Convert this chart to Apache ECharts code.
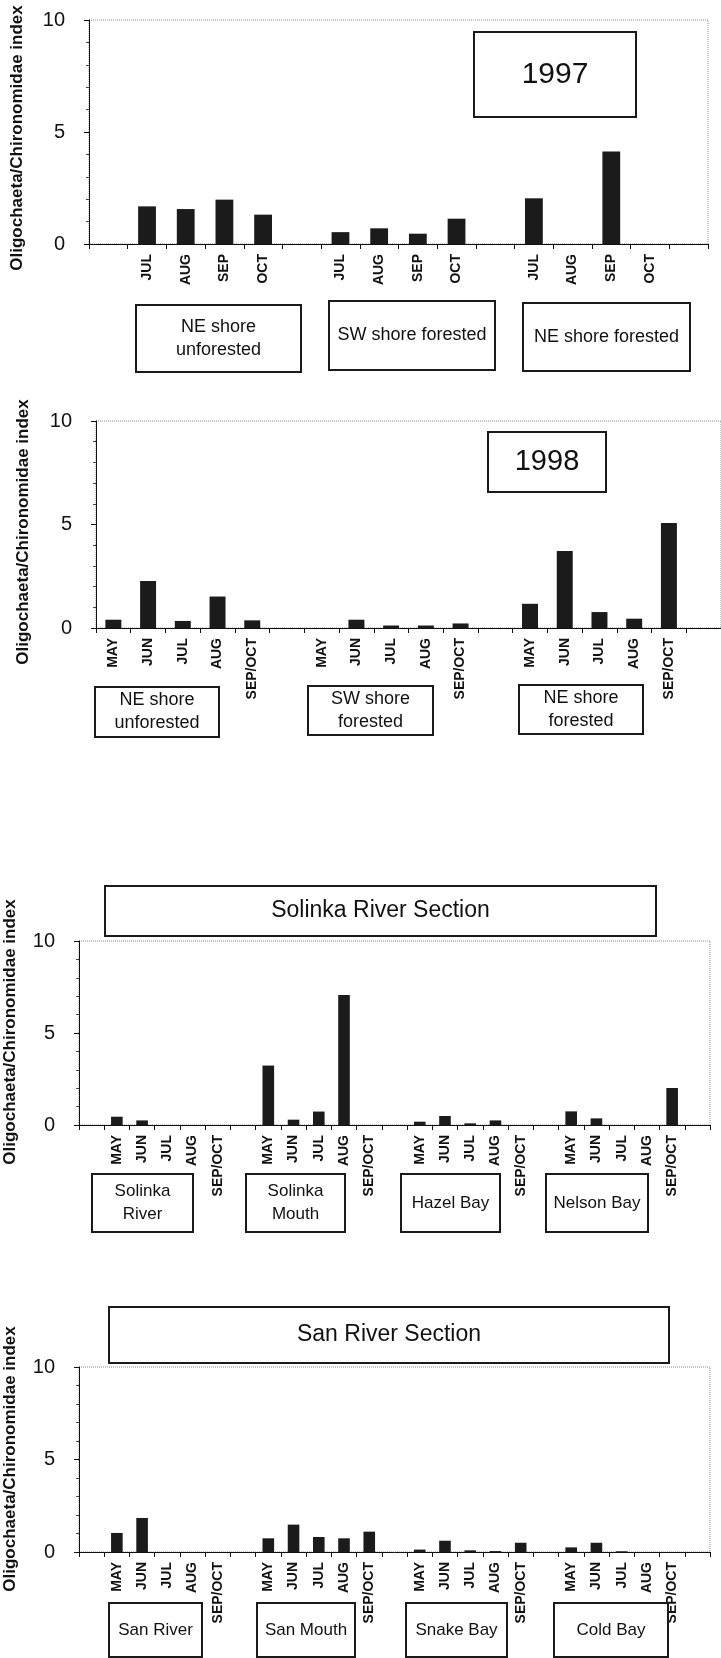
<!DOCTYPE html>
<html>
<head>
<meta charset="utf-8">
<title>Oligochaeta/Chironomidae index</title>
<script src="https://cdn.jsdelivr.net/npm/echarts/dist/echarts.min.js"></script>
<style>
  html, body { margin: 0; padding: 0; background: #fff; }
  #chart { width: 721px; height: 1658px; }
</style>
</head>
<body>
<div id="chart"></div>
<script>
// month labels
const months1997 = ["JUL", "AUG", "SEP", "OCT"];
const months = ["MAY", "JUN", "JUL", "AUG", "SEP/OCT"];
const yTicks = [0, 5, 10];

// 1997 lake sites
const neUnforested1997 = [1.68, 1.56, 1.98, 1.31];
const swForested1997 = [0.53, 0.70, 0.46, 1.13];
const neForested1997 = [2.04, 0, 4.13, 0];

// 1998 lake sites
const neUnforested1998 = [0.40, 2.27, 0.34, 1.52, 0.37];
const swForested1998 = [0, 0.40, 0.12, 0.12, 0.22];
const neForested1998 = [1.17, 3.72, 0.77, 0.45, 5.07];

// Solinka River section
const solinkaRiver = [0.45, 0.25, 0, 0, 0];
const solinkaMouth = [3.23, 0.29, 0.73, 7.06, 0];
const hazelBay = [0.18, 0.49, 0.09, 0.25, 0];
const nelsonBay = [0.74, 0.36, 0, 0, 2.01];

// San River section
const sanRiver = [1.03, 1.84, 0, 0, 0];
const sanMouth = [0.74, 1.48, 0.81, 0.74, 1.10];
const snakeBay = [0.13, 0.61, 0.09, 0.05, 0.50];
const coldBay = [0.25, 0.50, 0.04, 0, 0];

const yTitle = "Oligochaeta/Chironomidae index";
const FONT = "'Liberation Sans', Arial, sans-serif";

// put the site groups side by side with an empty slot after each
function layout(groups, names, leadingGap) {
  const cats = [], vals = [];
  if (leadingGap) { cats.push(""); vals.push(null); }
  groups.forEach(g => {
    names.forEach((m, i) => { cats.push(m); vals.push(g[i]); });
    cats.push(""); vals.push(null);
  });
  return { cats, vals };
}

const panels = [
  layout([neUnforested1997, swForested1997, neForested1997], months1997, true),
  layout([neUnforested1998, swForested1998, neForested1998], months, false),
  layout([solinkaRiver, solinkaMouth, hazelBay, nelsonBay], months, true),
  layout([sanRiver, sanMouth, snakeBay, coldBay], months, true)
];

const grids = [
  { left: 89, top: 20, width: 619, height: 224 },
  { left: 96, top: 421, width: 630, height: 207 },
  { left: 79, top: 941, width: 631, height: 184 },
  { left: 79, top: 1367, width: 631, height: 185 }
];

function box(x, y, w, h, text, size) {
  return [
    {
      type: "rect", z: 10,
      shape: { x: x, y: y, width: w, height: h },
      style: { fill: "#fff", stroke: "#1a1a1a", lineWidth: 2 }
    },
    {
      type: "text", z: 11,
      x: x + w / 2, y: y + h / 2,
      style: {
        text: text, fill: "#111", font: size + "px " + FONT,
        textAlign: "center", textVerticalAlign: "middle", lineHeight: 23
      }
    }
  ];
}

function axisTitle(x, y) {
  return {
    type: "text", z: 11, x: x, y: y, rotation: Math.PI / 2,
    style: {
      text: yTitle, fill: "#111", font: "bold 17px " + FONT,
      textAlign: "center", textVerticalAlign: "middle"
    }
  };
}

const graphics = [].concat(
  box(474, 32, 162, 85, "1997", 30),
  box(136, 305, 165, 67, "NE shore\nunforested", 18),
  box(329, 301, 166, 69, "SW shore forested", 18),
  box(523, 303, 167, 68, "NE shore forested", 18),

  box(488, 432, 118, 60, "1998", 29),
  box(95, 687, 124, 50, "NE shore\nunforested", 18),
  box(308, 686, 125, 49, "SW shore\nforested", 18),
  box(519, 685, 124, 49, "NE shore\nforested", 18),

  box(105, 886, 551, 50, "Solinka River Section", 23),
  box(92, 1174, 101, 58, "Solinka\nRiver", 17),
  box(246, 1174, 99, 58, "Solinka\nMouth", 17),
  box(401, 1174, 99, 58, "Hazel Bay", 17),
  box(546, 1174, 102, 58, "Nelson Bay", 17),

  box(109, 1307, 560, 56, "San River Section", 23),
  box(109, 1603, 93, 54, "San River", 17),
  box(257, 1603, 98, 54, "San Mouth", 17),
  box(406, 1603, 101, 54, "Snake Bay", 17),
  box(554, 1603, 114, 54, "Cold Bay", 17),

  [axisTitle(17, 138), axisTitle(23, 532), axisTitle(10, 1032), axisTitle(10, 1459)]
);

const chart = echarts.init(document.getElementById("chart"), null, { renderer: "canvas" });

chart.setOption({
  animation: false,
  backgroundColor: "#fff",
  textStyle: { fontFamily: FONT },
  grid: grids.map(g => Object.assign({
    show: true, borderColor: "#8a8a8a", borderWidth: 1, borderType: "dotted"
  }, g)),
  xAxis: panels.map((p, i) => ({
    type: "category",
    gridIndex: i,
    data: p.cats,
    axisLine: { lineStyle: { color: "#111", width: 1 } },
    axisTick: { show: true, interval: 0, length: 5, lineStyle: { color: "#111" } },
    axisLabel: {
      interval: 0, rotate: 90, margin: 10,
      fontSize: 14, fontWeight: "bold", color: "#111"
    }
  })),
  yAxis: panels.map((p, i) => ({
    type: "value",
    gridIndex: i,
    min: yTicks[0], max: yTicks[2], interval: 5,
    axisLine: { show: true, lineStyle: { color: "#111", width: 1 } },
    axisTick: { show: true, length: 5, lineStyle: { color: "#111" } },
    minorTick: { show: true, splitNumber: 5, length: 3, lineStyle: { color: "#444" } },
    splitLine: { show: false },
    axisLabel: { fontSize: 20, color: "#111", margin: 24 }
  })),
  series: panels.map((p, i) => ({
    type: "bar",
    xAxisIndex: i,
    yAxisIndex: i,
    data: p.vals,
    barWidth: "46%",
    silent: true,
    itemStyle: { color: "#1b1b1b" }
  })),
  graphic: graphics
});
</script>
</body>
</html>
